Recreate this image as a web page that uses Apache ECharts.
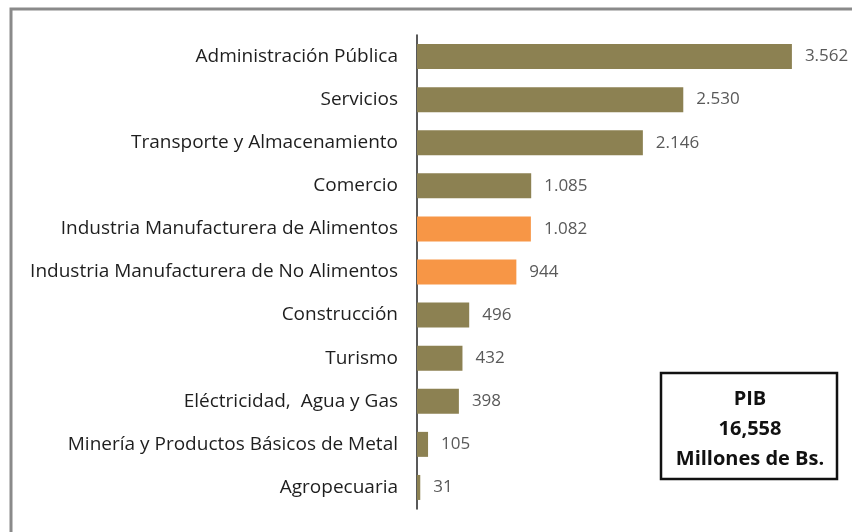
<!doctype html>
<html lang="es">
<head>
    <meta charset="UTF-8">
    <title>PIB por sector</title>
    <script src="https://cdn.jsdelivr.net/npm/echarts@6/dist/echarts.min.js"></script>
    <style>
        body { margin: 0; background: #fff; }
    </style>
</head>
<body>
    <div id="main" style="width: 852px;height:532px;"></div>
    <script>
        // sectores, de arriba hacia abajo
        var sectores = [
            'Administración Pública',
            'Servicios',
            'Transporte y Almacenamiento',
            'Comercio',
            'Industria Manufacturera de Alimentos',
            'Industria Manufacturera de No Alimentos',
            'Construcción',
            'Turismo',
            'Eléctricidad,  Agua y Gas',
            'Minería y Productos Básicos de Metal',
            'Agropecuaria'
        ];
        var valores = [3562, 2530, 2146, 1085, 1082, 944, 496, 432, 398, 105, 31];
        var resaltados = [4, 5]; // industria manufacturera, en naranja
        var cuadroPIB = ['PIB', '16,558', 'Millones de Bs.'];

        var font = '"Open Sans", sans-serif';

        function miles(v) {
            return String(v).replace(/\B(?=(\d{3})+(?!\d))/g, '.');
        }

        var myChart = echarts.init(document.getElementById('main'));

        myChart.setOption({
            backgroundColor: '#fff',
            animation: false,
            grid: { left: 417, right: 14, top: 35, bottom: 23 },
            xAxis: {
                type: 'value',
                min: 0,
                max: 4000,
                show: false
            },
            yAxis: {
                type: 'category',
                inverse: true,
                data: sectores,
                axisLine: { lineStyle: { color: '#222', width: 1.5 } },
                axisTick: { length: 6, lineStyle: { color: '#222', width: 1.5 } },
                axisLabel: {
                    color: '#1e1e1e',
                    fontFamily: font,
                    fontSize: 19,
                    margin: 19
                }
            },
            series: [{
                type: 'bar',
                barCategoryGap: '42%',
                data: valores.map(function (v, i) {
                    return {
                        value: v,
                        itemStyle: { color: resaltados.indexOf(i) >= 0 ? '#f79646' : '#8c8152' }
                    };
                }),
                label: {
                    show: true,
                    position: 'right',
                    distance: 13,
                    color: '#595959',
                    fontFamily: font,
                    fontSize: 17,
                    formatter: function (p) { return miles(p.value); }
                }
            }],
            graphic: [
                {
                    type: 'rect',
                    shape: { x: 11, y: 9, width: 900, height: 600 },
                    style: { fill: null, stroke: '#8a8a8a', lineWidth: 3 },
                    silent: true
                },
                {
                    type: 'rect',
                    shape: { x: 661, y: 373, width: 176, height: 106 },
                    style: { fill: '#fff', stroke: '#111', lineWidth: 2.5 }
                },
                {
                    type: 'text',
                    x: 750,
                    y: 429,
                    style: {
                        text: cuadroPIB.join('\n'),
                        align: 'center',
                        verticalAlign: 'middle',
                        fill: '#111',
                        font: 'bold 20px ' + font,
                        lineHeight: 30
                    }
                }
            ]
        });
    </script>
</body>
</html>
